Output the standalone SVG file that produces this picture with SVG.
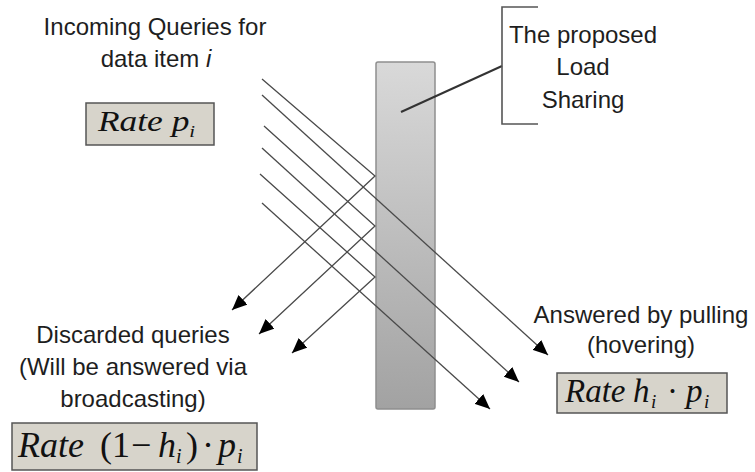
<svg xmlns="http://www.w3.org/2000/svg" width="755" height="472" viewBox="0 0 755 472">
<style>
.lbl{font-family:"Liberation Sans",Arial,sans-serif;font-size:24px;fill:#1e1e1e;text-anchor:middle}
.math{font-family:"Liberation Serif","Times New Roman",serif;fill:#111}
.it{font-style:italic}
.box{fill:#d7d4cb;stroke:#555;stroke-width:1.5}
.ray{stroke:#4a4a4a;stroke-width:1.3;fill:none}
.arr{marker-end:url(#ah)}
</style>
<defs>
<linearGradient id="barg" x1="0" y1="0" x2="0" y2="1">
<stop offset="0" stop-color="#d9d9d9"/>
<stop offset="1" stop-color="#a2a2a2"/>
</linearGradient>
<marker id="ah" markerUnits="userSpaceOnUse" markerWidth="16" markerHeight="14" refX="15" refY="7" orient="auto">
<path d="M0,0.5 L15,7 L0,13.5 z" fill="#000"/>
</marker>
</defs>
<rect width="755" height="472" fill="#fff"/>

<g id="load-sharing-bar">
<rect x="376" y="62" width="59" height="347" rx="2" fill="url(#barg)" stroke="#8e8e8e" stroke-width="1.5"/>
</g>

<g id="connectors">
<polyline class="ray arr" points="262,79 375,176 232,310"/>
<polyline class="ray arr" points="264,126 375,226 259,334"/>
<polyline class="ray arr" points="260,174 375,277 292,353"/>
<line class="ray arr" x1="262" y1="95" x2="548" y2="355"/>
<line class="ray arr" x1="262" y1="148" x2="519" y2="382"/>
<line class="ray arr" x1="262" y1="203" x2="490" y2="409"/>
<line x1="401" y1="112" x2="502" y2="66" stroke="#333" stroke-width="2"/>
<path d="M538,7 H502 V124 H538" fill="none" stroke="#555" stroke-width="1.6"/>
</g>

<g id="incoming-label">
<text class="lbl" x="155" y="35">Incoming Queries for</text>
<text class="lbl" x="156" y="67">data item <tspan font-style="italic">i</tspan></text>
</g>

<g id="rate-pi">
<rect class="box" x="86" y="103" width="128" height="42"/>
<g transform="translate(98,131) scale(1.22,1)">
<text class="math it" font-size="29" x="0" y="0">Rate p<tspan font-size="17" dy="6">i</tspan></text>
</g>
</g>

<g id="proposed-label">
<text class="lbl" x="583" y="43">The proposed</text>
<text class="lbl" x="583" y="75">Load</text>
<text class="lbl" x="583" y="108">Sharing</text>
</g>

<g id="discarded-label">
<text class="lbl" x="133" y="343">Discarded queries</text>
<text class="lbl" x="133" y="375">(Will be answered via</text>
<text class="lbl" x="133" y="407">broadcasting)</text>
</g>

<g id="rate-discarded">
<rect class="box" x="12" y="423" width="245" height="47"/>
<text class="math" font-size="36" y="457"><tspan class="it" x="18">Rate</tspan><tspan x="100">(1</tspan><tspan x="131">−</tspan><tspan class="it" x="158">h</tspan><tspan class="it" x="176" dy="6" font-size="20">i</tspan><tspan x="186" dy="-6">)</tspan><tspan x="202">·</tspan><tspan class="it" x="218">p</tspan><tspan class="it" x="237" dy="6" font-size="20">i</tspan></text>
</g>

<g id="answered-label">
<text class="lbl" x="641" y="323">Answered by pulling</text>
<text class="lbl" x="641" y="353">(hovering)</text>
</g>

<g id="rate-answered">
<rect class="box" x="557" y="373" width="170" height="40"/>
<text class="math" font-size="33" y="402"><tspan class="it" x="565">Rate</tspan><tspan class="it" x="633">h</tspan><tspan class="it" x="651" dy="6" font-size="19">i</tspan><tspan x="667" dy="-6">·</tspan><tspan class="it" x="686">p</tspan><tspan class="it" x="704" dy="6" font-size="19">i</tspan></text>
</g>
</svg>
